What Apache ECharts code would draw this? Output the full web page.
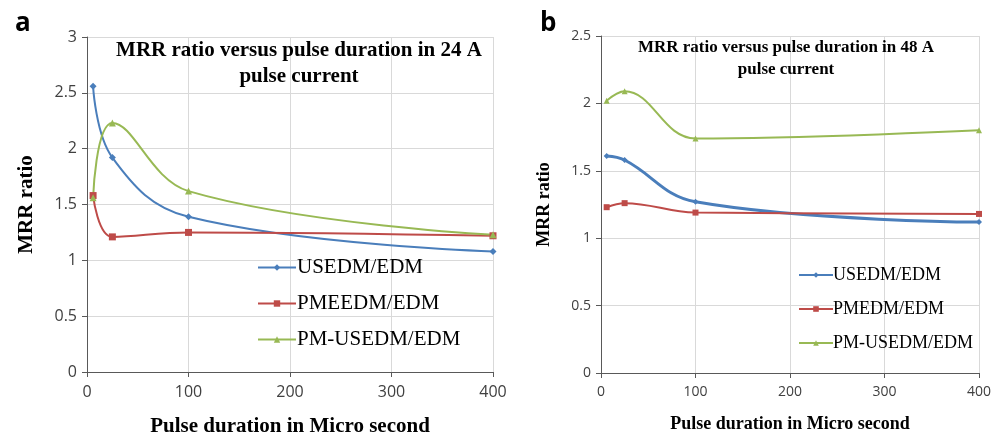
<!DOCTYPE html>
<html>
<head>
<meta charset="utf-8">
<script src="https://cdn.jsdelivr.net/npm/echarts@6/dist/echarts.min.js"></script>
<style>
  html, body { margin: 0; padding: 0; background: #fff; }
  #chart { width: 1005px; height: 438px; }
</style>
</head>
<body>
<div id="chart"></div>
<script>
// pulse durations (micro second)
const pulse = [6, 25, 100, 400];

// panel a, 24 A
const usedmA = [2.56, 1.92, 1.39, 1.08];
const pmeedmA = [1.58, 1.21, 1.25, 1.22];
const pmusedmA = [1.56, 2.23, 1.62, 1.23];

// panel b, 48 A
const usedmB = [1.61, 1.58, 1.27, 1.12];
const pmedmB = [1.23, 1.26, 1.19, 1.18];
const pmusedmB = [2.02, 2.09, 1.74, 1.80];

const blue = '#4a7ebb', red = '#be4b48', green = '#98b954';
const serif = '"Liberation Serif", "DejaVu Serif", serif';
const sans = '"Open Sans", "Liberation Sans", sans-serif';

const pairs = vals => pulse.map((x, i) => [x, vals[i]]);

function xAxis(grid, fs, nameFs, gap) {
  return {
    type: 'value', gridIndex: grid, min: 0, max: 400, interval: 100,
    name: 'Pulse duration in Micro second', nameLocation: 'middle', nameGap: gap,
    nameTextStyle: { fontFamily: serif, fontWeight: 'bold', fontSize: nameFs, color: '#000' },
    axisLine: { lineStyle: { color: '#595959', width: 1 } },
    axisTick: { show: true, length: 5, lineStyle: { color: '#595959' } },
    axisLabel: { fontFamily: sans, fontSize: fs, color: '#404040', margin: 12 },
    splitLine: { show: true, lineStyle: { color: '#d9d9d9' } }
  };
}
function yAxis(grid, max, fs, nameFs, gap) {
  return {
    type: 'value', gridIndex: grid, min: 0, max: max, interval: 0.5,
    name: 'MRR ratio', nameLocation: 'middle', nameGap: gap, nameRotate: 90,
    nameTextStyle: { fontFamily: serif, fontWeight: 'bold', fontSize: nameFs, color: '#000' },
    axisLine: { show: true, lineStyle: { color: '#595959', width: 1 } },
    axisTick: { show: true, length: 5, lineStyle: { color: '#595959' } },
    axisLabel: { fontFamily: sans, fontSize: fs, color: '#404040', margin: 10 },
    splitLine: { show: true, lineStyle: { color: '#d9d9d9' } }
  };
}
function line(name, vals, color, symbol, idx, width, size) {
  return {
    name: name, type: 'line', xAxisIndex: idx, yAxisIndex: idx,
    data: pairs(vals), smooth: 0.4, symbol: symbol, symbolSize: size,
    showSymbol: true, animation: false,
    lineStyle: { color: color, width: width },
    itemStyle: { color: color }
  };
}

const chart = echarts.init(document.getElementById('chart'));
chart.setOption({
  backgroundColor: '#fff',
  title: [
    { text: 'a', left: 10, top: 6, textStyle: { fontFamily: sans, fontWeight: 'bold', fontSize: 26, color: '#000' } },
    { text: 'b', left: 535, top: 6, textStyle: { fontFamily: sans, fontWeight: 'bold', fontSize: 26, color: '#000' } },
    { text: 'MRR ratio versus pulse duration in 24 A\npulse current', left: 294, top: 33, textAlign: 'center',
      textStyle: { fontFamily: serif, fontWeight: 'bold', fontSize: 21, lineHeight: 26, color: '#000' } },
    { text: 'MRR ratio versus pulse duration in 48 A\npulse current', left: 781, top: 32, textAlign: 'center',
      textStyle: { fontFamily: serif, fontWeight: 'bold', fontSize: 17, lineHeight: 22, color: '#000' } }
  ],
  grid: [
    { left: 87, top: 37, width: 406, height: 335, outerBoundsMode: 'none' },
    { left: 601, top: 36, width: 378, height: 337, outerBoundsMode: 'none' }
  ],
  legend: [
    { data: ['USEDM/EDM', 'PMEEDM/EDM', 'PM-USEDM/EDM'], orient: 'vertical', left: 252, top: 252,
      itemWidth: 38, itemHeight: 8, itemGap: 15, selectedMode: false,
      textStyle: { fontFamily: serif, fontSize: 21, color: '#000', padding: [0, 0, 0, -4] } },
    { data: ['USEDM/EDM ', 'PMEDM/EDM', 'PM-USEDM/EDM '], orient: 'vertical', left: 793, top: 261,
      itemWidth: 34, itemHeight: 7, itemGap: 16, selectedMode: false,
      textStyle: { fontFamily: serif, fontSize: 18, color: '#000', padding: [0, 0, 0, -5] } }
  ],
  xAxis: [xAxis(0, 16, 21, 44), xAxis(1, 14, 18, 42)],
  yAxis: [yAxis(0, 3, 16, 21, 50), yAxis(1, 2.5, 14, 18, 48)],
  series: [
    line('USEDM/EDM', usedmA, blue, 'diamond', 0, 2, 7),
    line('PMEEDM/EDM', pmeedmA, red, 'rect', 0, 2, 7),
    line('PM-USEDM/EDM', pmusedmA, green, 'triangle', 0, 2, 7),
    line('USEDM/EDM ', usedmB, blue, 'diamond', 1, 3, 6),
    line('PMEDM/EDM', pmedmB, red, 'rect', 1, 2, 6),
    line('PM-USEDM/EDM ', pmusedmB, green, 'triangle', 1, 2, 6)
  ]
});
</script>
</body>
</html>
